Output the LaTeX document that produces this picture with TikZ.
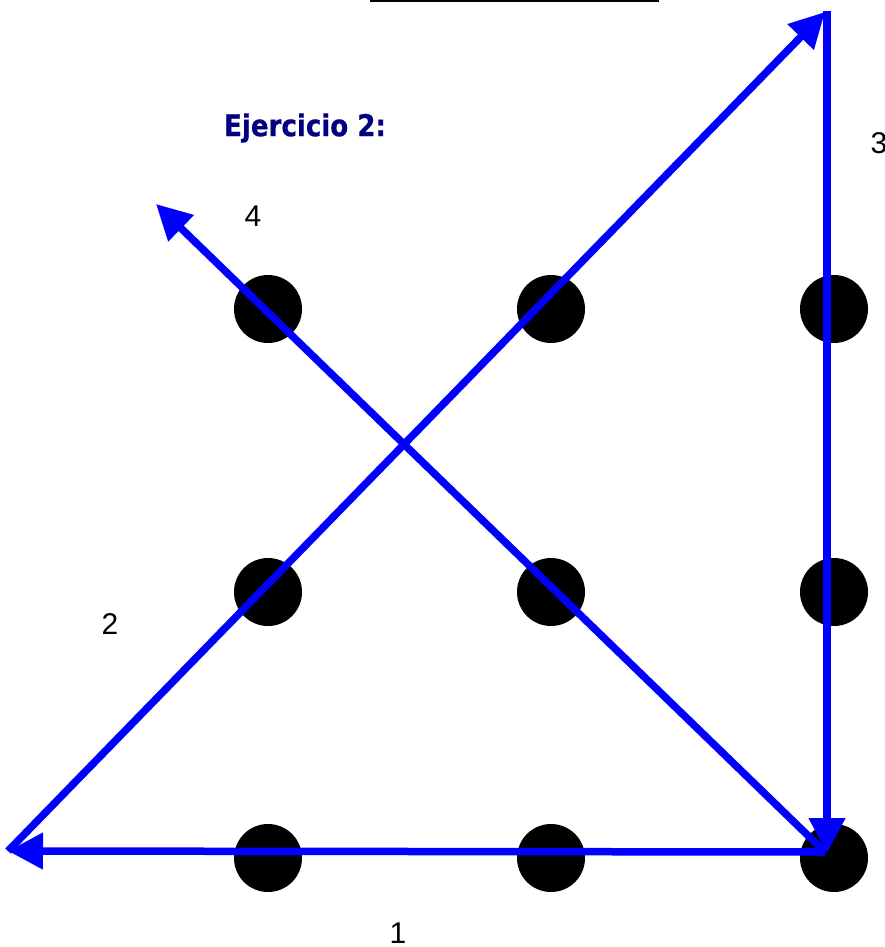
\documentclass[tikz,border=0pt]{standalone}
\usepackage{fontspec}
\setmainfont{Liberation Sans}
\newfontfamily\titlefont[FakeStretch=0.87,FakeBold=0.6]{DejaVu Sans}
\usetikzlibrary{arrows.meta}
\definecolor{navytitle}{RGB}{0,0,128}
\begin{document}
\begin{tikzpicture}[x=1pt,y=-1pt,
  dot/.style={circle,fill=black,minimum size=68pt,inner sep=0pt},
  path/.style={draw=blue,line width=7.5pt,-{Triangle[length=35pt,width=35pt]}},
  lbl/.style={font=\fontsize{30}{30}\selectfont,inner sep=0pt}]
\useasboundingbox (0,0) rectangle (884,947);
\draw[line width=2pt] (371,-10) rectangle (658,1);
\node[font=\titlefont\bfseries\fontsize{30}{30}\selectfont,text=navytitle,inner sep=0pt] (title) at (305,128) {Ejercicio 2:};
% dots
\foreach \i/\x in {1/268,2/551,3/834}{
  \foreach \j/\y in {1/309,2/592,3/858}{
    \node[dot] (d\i\j) at (\x,\y) {};
  }
}
\coordinate (A) at (825,852);
\coordinate (B) at (8,851);
\coordinate (C) at (825,12);
\coordinate (D) at (156,204);
\coordinate (Cs) at (827,11);
\coordinate (As) at (827,853);
\draw[path] (A) -- (B);
\draw[path] (B) -- (C);
\draw[path] (Cs) -- (As);
\draw[path] (A) -- (D);
\node[lbl] (l1) at (398,933) {1};
\node[lbl] (l2) at (110,624) {2};
\node[lbl] (l3) at (879,143) {3};
\node[lbl] (l4) at (253,216) {4};
\end{tikzpicture}
\end{document}
